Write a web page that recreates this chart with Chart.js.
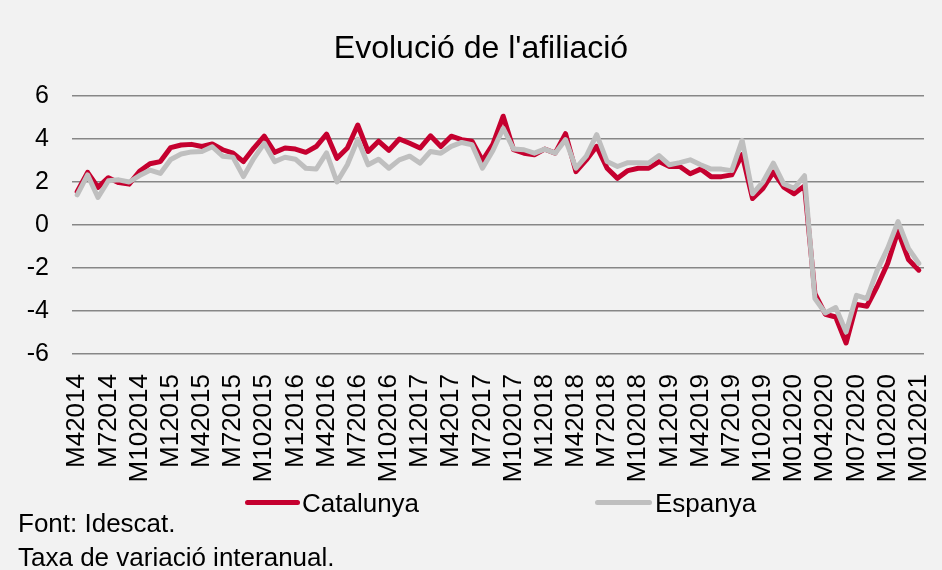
<!DOCTYPE html>
<html>
<head>
<meta charset="utf-8">
<script src="https://cdn.jsdelivr.net/npm/chart.js@4/dist/chart.umd.min.js"></script>
<style>
  body { margin: 0; background: #f2f2f2; }
  #wrap { position: relative; width: 942px; height: 570px; background: #f2f2f2;
          font-family: "Liberation Sans", Arial, sans-serif; color: #000; }
  #chart { position: absolute; left: 0; top: 0; }
  .txt { position: absolute; font-size: 26px; line-height: 30px; white-space: nowrap; }
  .swatch { position: absolute; height: 5px; border-radius: 3px; }
  #title { position: absolute; left: 0; top: 28px; width: 962px; text-align: center;
           font-size: 32px; line-height: 38px; }
</style>
</head>
<body>
<div id="wrap">
  <canvas id="chart" width="942" height="570"></canvas>
  <div id="title">Evolució de l'afiliació</div>
  <div class="swatch" style="left:245px; top:500px; width:55px; background:#c5002f;"></div>
  <div class="txt" style="left:302px; top:488px;">Catalunya</div>
  <div class="swatch" style="left:595px; top:500px; width:57px; background:#bfbfbf;"></div>
  <div class="txt" style="left:655px; top:488px;">Espanya</div>
  <div class="txt" style="left:18px; top:508px;">Font: Idescat.</div>
  <div class="txt" style="left:18px; top:542px;">Taxa de variació interanual.</div>
</div>
<script>
var FONT = '"Liberation Sans", Arial, sans-serif';

// months, April 2014 - January 2021
var months = [
  'M42014', 'M52014', 'M62014', 'M72014', 'M82014', 'M92014', 'M102014', 'M112014', 'M122014',
  'M12015', 'M22015', 'M32015', 'M42015', 'M52015', 'M62015', 'M72015', 'M82015', 'M92015', 'M102015', 'M112015', 'M122015',
  'M12016', 'M22016', 'M32016', 'M42016', 'M52016', 'M62016', 'M72016', 'M82016', 'M92016', 'M102016', 'M112016', 'M122016',
  'M12017', 'M22017', 'M32017', 'M42017', 'M52017', 'M62017', 'M72017', 'M82017', 'M92017', 'M102017', 'M112017', 'M122017',
  'M12018', 'M22018', 'M32018', 'M42018', 'M52018', 'M62018', 'M72018', 'M82018', 'M92018', 'M102018', 'M112018', 'M122018',
  'M12019', 'M22019', 'M32019', 'M42019', 'M52019', 'M62019', 'M72019', 'M82019', 'M92019', 'M102019', 'M112019', 'M122019',
  'M012020', 'M022020', 'M032020', 'M042020', 'M052020', 'M062020', 'M072020', 'M082020', 'M092020', 'M102020', 'M112020', 'M122020',
  'M012021'
];

var catalunya = [
  1.55, 2.45, 1.75, 2.2, 1.97, 1.9, 2.5, 2.85, 2.95,
  3.6, 3.72, 3.75, 3.65, 3.77, 3.5, 3.34, 2.95, 3.58, 4.13, 3.38, 3.58,
  3.53, 3.38, 3.65, 4.23, 3.1, 3.58, 4.65, 3.42, 3.9, 3.47, 4.0, 3.8,
  3.58, 4.15, 3.65, 4.13, 3.97, 3.9, 3.0, 3.75, 5.06, 3.5, 3.34, 3.27,
  3.53, 3.34, 4.25, 2.48, 3.03, 3.66, 2.64, 2.17, 2.53, 2.64, 2.64, 2.95,
  2.72, 2.72, 2.38, 2.6, 2.25, 2.25, 2.33, 3.27, 1.23, 1.7, 2.46, 1.76,
  1.45, 1.82, -3.19, -4.15, -4.28, -5.49, -3.69, -3.78, -2.85, -1.79, -0.28, -1.6,
  -2.1
];

var espanya = [
  1.4, 2.33, 1.28, 2.06, 2.1, 2.0, 2.3, 2.55, 2.4,
  3.05, 3.3, 3.4, 3.42, 3.64, 3.2, 3.15, 2.25, 3.1, 3.8, 2.95, 3.15,
  3.06, 2.64, 2.6, 3.35, 2.0, 2.8, 3.98, 2.8, 3.06, 2.64, 3.03, 3.2,
  2.88, 3.42, 3.34, 3.66, 3.84, 3.73, 2.64, 3.45, 4.5, 3.53, 3.5, 3.34,
  3.53, 3.34, 3.97, 2.64, 3.2, 4.2, 2.95, 2.72, 2.9, 2.9, 2.88, 3.23,
  2.8, 2.9, 3.03, 2.8, 2.6, 2.6, 2.53, 3.94, 1.45, 2.0, 2.88, 1.91,
  1.71, 2.29, -3.42, -4.09, -3.84, -4.98, -3.27, -3.42, -2.1, -1.09, 0.16, -1.09,
  -1.79
];

var yTicks = [-6, -4, -2, 0, 2, 4, 6];

var chart = new Chart(document.getElementById('chart'), {
  type: 'line',
  data: {
    labels: months,
    datasets: [
      {
        label: 'Catalunya',
        data: catalunya,
        borderColor: '#c5002f',
        backgroundColor: '#c5002f',
        borderWidth: 5,
        pointRadius: 0,
        tension: 0,
        borderJoinStyle: 'round',
        borderCapStyle: 'round',
        order: 1
      },
      {
        label: 'Espanya',
        data: espanya,
        borderColor: '#bfbfbf',
        backgroundColor: '#bfbfbf',
        borderWidth: 5,
        pointRadius: 0,
        tension: 0,
        borderJoinStyle: 'round',
        borderCapStyle: 'round',
        order: 0 // grey line sits on top of the red one
      }
    ]
  },
  options: {
    responsive: false,
    animation: false,
    layout: { autoPadding: false, padding: { left: 0, right: 18, top: 96, bottom: 86 } },
    plugins: {
      legend: { display: false },
      tooltip: { enabled: false },
      title: { display: false }
    },
    scales: {
      x: {
        offset: true,
        grid: { display: false },
        border: { display: false },
        ticks: {
          autoSkip: false,
          minRotation: 90,
          maxRotation: 90,
          padding: 12,
          color: '#000',
          font: { family: FONT, size: 26 },
          // only every third month gets a label
          callback: function (value, index) {
            return index % 3 === 0 ? this.getLabelForValue(value) : '';
          }
        },
        afterFit: function (scale) {
          scale.height = 130;
          // rotated labels otherwise eat into the plot width
          scale.paddingLeft = 0;
          scale.paddingRight = 0;
        }
      },
      y: {
        min: yTicks[0],
        max: yTicks[yTicks.length - 1],
        border: { display: false },
        grid: { color: '#878787', lineWidth: 1.5, drawTicks: false },
        ticks: {
          stepSize: 2,
          padding: 23,
          color: '#000',
          font: { family: FONT, size: 25 }
        },
        afterFit: function (scale) { scale.width = 72; }
      }
    }
  }
});
</script>
</body>
</html>
